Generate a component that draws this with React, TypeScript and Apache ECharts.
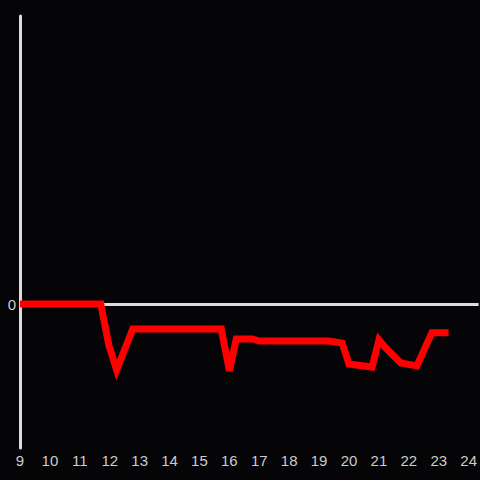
import React, { useEffect, useRef } from "react";
import * as echarts from "echarts";

const hours = [9, 11.7, 11.97, 12.23, 12.77, 15.73, 16.0, 16.23, 16.77, 17.0, 19.33, 19.77, 20.0, 20.77, 21.0, 21.23, 21.73, 22.27, 22.77, 23.33];
const values = [0, 0, -0.285, -0.458, -0.174, -0.174, -0.465, -0.243, -0.243, -0.257, -0.257, -0.271, -0.417, -0.438, -0.25, -0.306, -0.41, -0.43, -0.2, -0.2];

export default function App() {
  const ref = useRef<HTMLDivElement>(null);
  useEffect(() => {
    if (!ref.current) return;
    const chart = echarts.init(ref.current, null, { renderer: "svg" });
    chart.setOption({
      animation: false,
      backgroundColor: "#050407",
      grid: { left: 20, right: 0, top: 16, bottom: 32 },
      xAxis: {
        type: "value",
        min: 9,
        max: 24 + 1 / 3,
        interval: 1,
        axisLine: { show: false },
        axisTick: { show: false },
        splitLine: { show: false },
        axisLabel: {
          color: "#cccccc",
          fontSize: 15,
          fontFamily: "Liberation Sans, Arial, sans-serif",
          margin: 5,
          showMaxLabel: false,
          formatter: (v: number) => (Math.abs(v - Math.round(v)) < 1e-6 ? String(Math.round(v)) : ""),
        },
      },
      yAxis: {
        type: "value",
        min: -1,
        max: 2,
        interval: 1,
        axisLine: { show: true, onZero: false, lineStyle: { color: "#dddddd", width: 3 } },
        axisTick: { show: false },
        splitLine: { show: false },
        axisLabel: {
          color: "#cccccc",
          fontSize: 15,
          fontFamily: "Liberation Sans, Arial, sans-serif",
          margin: 4,
          formatter: (v: number) => (v === 0 ? "0" : ""),
        },
      },
      series: [
        {
          type: "line",
          data: hours.map((h, i) => [h, values[i]]),
          showSymbol: false,
          lineStyle: { color: "#ff0000", width: 7, join: "miter" },
          markLine: {
            silent: true,
            symbol: "none",
            label: { show: false },
            lineStyle: { color: "#dddddd", width: 3, type: "solid" },
            data: [{ yAxis: 0 }],
            z: 1,
          },
          z: 3,
        },
      ],
    });
    return () => chart.dispose();
  }, []);
  return <div ref={ref} style={{ width: 480, height: 480, position: "absolute", left: 0, top: 0 }} />;
}
